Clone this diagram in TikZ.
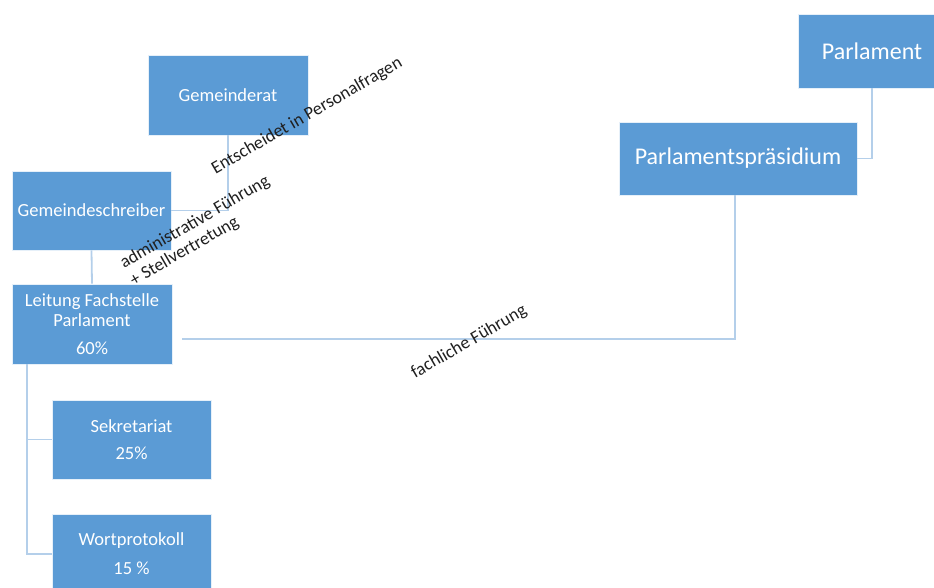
\documentclass[tikz,border=0pt]{standalone}
\usepackage{fontspec}
\setmainfont{Carlito}
\usetikzlibrary{calc}
\definecolor{boxblue}{HTML}{5B9BD5}
\definecolor{linkblue}{HTML}{B4CFEA}
\definecolor{labelgray}{HTML}{202020}
\tikzset{
  orgbox/.style={draw=white!85!boxblue, line width=0.8pt, fill=boxblue, text=white, align=center, inner sep=0pt,
    font=\fontsize{18.5}{20}\selectfont},
  bigbox/.style={orgbox, font=\fontsize{24}{26}\selectfont},
  link/.style={draw=linkblue, line width=1.8pt},
  lbl/.style={text=labelgray, rotate=30, inner sep=0pt, font=\fontsize{18}{20}\selectfont}
}
\begin{document}
\begin{tikzpicture}[x=1pt,y=-1pt]
\useasboundingbox (0,0) rectangle (934,587);
% boxes
\node[orgbox, minimum width=160pt, minimum height=80pt] (gr) at (228,95) {Gemeinderat};
\node[orgbox, minimum width=159pt, minimum height=79pt] (gs) at (91.5,210.5) {Gemeindeschreiber};
\node[orgbox, minimum width=160pt, minimum height=80pt] (lf) at (92,324) {Leitung Fachstelle\\Parlament\\[8pt]60\%};
\node[orgbox, minimum width=159pt, minimum height=79pt] (sk) at (131.5,439.5) {Sekretariat\\[7pt]25\%};
\node[orgbox, minimum width=159pt, minimum height=80pt] (wp) at (131.5,554) {Wortprotokoll\\[9pt]15 \%};
\node[bigbox, minimum width=238pt, minimum height=73pt] (pp) at (738,158.5) {Parlamentspräsidium};
\node[bigbox, minimum width=148pt, minimum height=74pt] (pa) at (872,51) {Parlament};
% helper coordinates
\coordinate (lfdown) at ($(lf.south west)+(15,0)$);
\coordinate (fstart) at (182,339);
\coordinate (ppdown) at ($(pp.south)+(-3,0)$);
% connectors
\begin{scope}[on background layer/.style={}]
\draw[link] (gr.south) |- (gs.east);
\draw[link] (gs.south) -- (lf.north);
\draw[link] (lfdown) |- (sk.west);
\draw[link] (lfdown) |- (wp.west);
\draw[link] (fstart) -| (ppdown);
\draw[link] (pa.south) |- (pp.east);
\end{scope}
% labels
\node[lbl] (l1) at (307,116) {Entscheidet in Personalfragen};
\node[lbl, align=left] (l2) at (200,231) {administrative Führung\\+ Stellvertretung};
\node[lbl] (l3) at (469,342) {fachliche Führung};
\end{tikzpicture}
\end{document}
